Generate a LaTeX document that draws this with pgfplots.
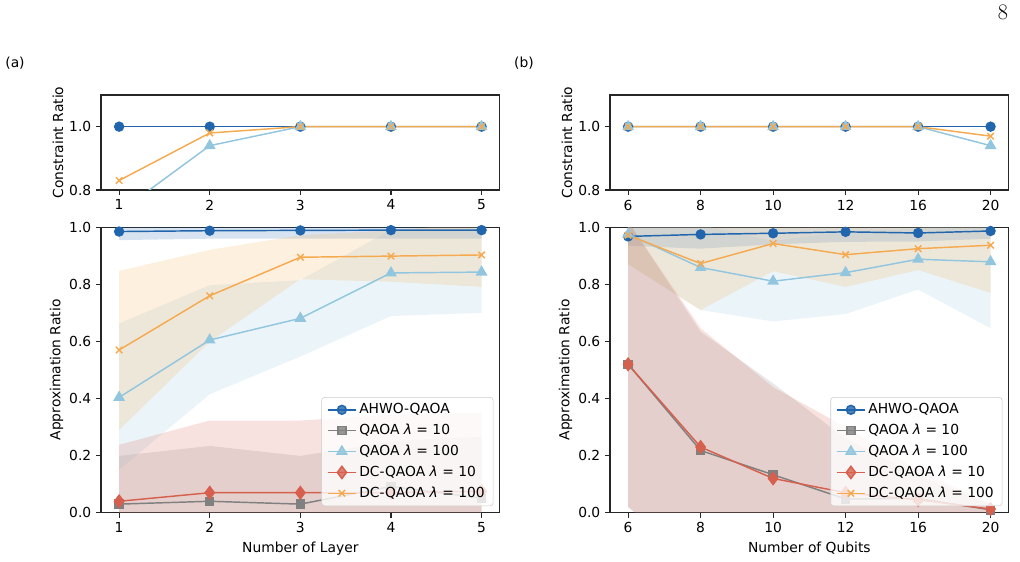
\documentclass[border=0pt]{standalone}
\usepackage{fontspec}
\setsansfont{DejaVu Sans}
\renewcommand{\familydefault}{\sfdefault}
\usepackage{pgfplots}
\pgfplotsset{compat=1.18}
\usepackage{pgfplotstable}

\definecolor{cAHWO}{RGB}{33,102,172}
\definecolor{cQten}{RGB}{128,128,128}
\definecolor{cQhun}{RGB}{146,197,222}
\definecolor{cDCten}{RGB}{214,96,77}
\definecolor{cDChun}{RGB}{245,170,80}

% mean approximation ratio vs. number of layers
\pgfplotstableread{
x ahwo  q10   q100  dc10  dc100
1 0.985 0.030 0.404 0.040 0.570
2 0.988 0.040 0.605 0.070 0.760
3 0.989 0.030 0.681 0.070 0.895
4 0.990 0.092 0.840 0.070 0.899
5 0.990 0.051 0.843 0.075 0.903
}\layers

% mean approximation ratio vs. number of qubits (x = category position)
\pgfplotstableread{
x n  ahwo  q10   q100  dc10  dc100
0 6  0.968 0.520 0.976 0.520 0.972
1 8  0.975 0.218 0.859 0.230 0.873
2 10 0.979 0.133 0.811 0.120 0.943
3 12 0.984 0.048 0.841 0.070 0.904
4 16 0.980 0.050 0.888 0.045 0.925
5 20 0.987 0.010 0.879 0.013 0.937
}\qubits

% constraint ratio
\pgfplotstableread{
x ahwo q100 dc100
1 1.00 0.73 0.83
2 1.00 0.94 0.98
3 1.00 1.00 1.00
4 1.00 1.00 1.00
5 1.00 1.00 1.00
}\layersc
\pgfplotstableread{
x ahwo q100 dc100
0 1.00 1.00 1.00
1 1.00 1.00 1.00
2 1.00 1.00 1.00
3 1.00 1.00 1.00
4 1.00 1.00 1.00
5 1.00 0.94 0.97
}\qubitsc

\newcommand{\tenpt}{\fontsize{10}{12}\selectfont}

\pgfplotsset{
  base/.style={
    scale only axis, width=287.06bp,
    tick pos=left, tick align=outside, major tick length=3.5bp,
    axis line style={black!85, line width=0.8bp},
    every tick/.style={black!85, line width=0.8bp},
    tick label style={font=\tenpt},
    label style={font=\tenpt},
    ylabel style={yshift=-2.5bp},
    /pgf/number format/assume math mode=true,
    yticklabel style={/pgf/number format/.cd, fixed, fixed zerofill, precision=1},
  },
  band/.style={fill=#1, fill opacity=0.18, draw=none, forget plot},
  sAHWO/.style={color=cAHWO, line width=1.05bp, mark=*, mark size=3.2bp, mark options={solid}},
  sQten/.style={color=cQten, line width=1.05bp, mark=square*, mark size=2.9bp, mark options={solid}},
  sQhun/.style={color=cQhun, line width=1.05bp, mark=triangle*, mark size=3.9bp, mark options={solid}},
  sDCten/.style={color=cDCten, line width=1.05bp, mark=diamond*, mark size=4.4bp, mark options={solid}},
  sDChun/.style={color=cDChun, line width=1.05bp, mark=x, mark size=3.3bp, mark options={solid}},
  legstyle/.style={
    legend style={at={(0.984,0.023)}, anchor=south east, draw=black!20,
      rounded corners=2bp, fill=white, fill opacity=0.8, text opacity=1,
      font=\tenpt, row sep=2bp, inner xsep=4bp, inner ysep=2.5bp},
    legend cell align=left,
    legend image code/.code={\draw[mark repeat=2,mark phase=2]
      plot coordinates {(0bp,0bp) (10bp,0bp) (20bp,0bp)};},
  },
}

\begin{document}
\begin{tikzpicture}
\path[use as bounding box] (0,0) rectangle (734.4bp,404.64bp);

\node[font=\tenpt] at (10.8bp,359.3bp) {(a)};
\node[font=\tenpt] at (377.3bp,359.3bp) {(b)};
\node[font=\rmfamily\fontsize{16}{19}\selectfont] at (722.2bp,396bp) {8};

% (a) top: constraint ratio vs layers
\begin{axis}[base, height=68.4bp, at={(72.72bp,267.84bp)}, anchor=south west,
  xmin=0.8, xmax=5.2, ymin=0.8, ymax=1.1,
  xtick={1,2,3,4,5}, ytick={0.8,1.0},
  ylabel={Constraint Ratio}]
  \addplot[sAHWO] table[x=x, y=ahwo]{\layersc};
  \addplot[sQhun] table[x=x, y=q100]{\layersc};
  \addplot[sDChun] table[x=x, y=dc100]{\layersc};
\end{axis}

% (a) bottom: approximation ratio vs layers, bands = mean +/- std
\begin{axis}[base, legstyle, height=205.5bp, at={(72.72bp,35.5bp)}, anchor=south west,
  xmin=0.8, xmax=5.2, ymin=0, ymax=1,
  xtick={1,2,3,4,5}, ytick={0,0.2,0.4,0.6,0.8,1.0},
  xlabel={Number of Layer}, ylabel={Approximation Ratio}]
  \addplot[band=cAHWO] coordinates {(1,1.015)(2,1.016)(3,1.018)(4,1.020)(5,1.020)
    (5,0.960)(4,0.960)(3,0.960)(2,0.960)(1,0.955)};
  \addplot[band=cQten] coordinates {(1,0.199)(2,0.234)(3,0.199)(4,0.250)(5,0.267)
    (5,-0.165)(4,-0.066)(3,-0.139)(2,-0.154)(1,-0.139)};
  \addplot[band=cQhun] coordinates {(1,0.663)(2,0.797)(3,0.815)(4,0.991)(5,0.986)
    (5,0.700)(4,0.689)(3,0.547)(2,0.415)(1,0.150)};
  \addplot[band=cDCten] coordinates {(1,0.238)(2,0.323)(3,0.323)(4,0.343)(5,0.351)
    (5,-0.201)(4,-0.203)(3,-0.183)(2,-0.183)(1,-0.158)};
  \addplot[band=cDChun] coordinates {(1,0.847)(2,0.921)(3,0.972)(4,0.989)(5,1.015)
    (5,0.791)(4,0.809)(3,0.818)(2,0.599)(1,0.290)};
  \addplot[sAHWO] table[x=x, y=ahwo]{\layers};
  \addplot[sQten] table[x=x, y=q10]{\layers};
  \addplot[sQhun] table[x=x, y=q100]{\layers};
  \addplot[sDCten] table[x=x, y=dc10]{\layers};
  \addplot[sDChun] table[x=x, y=dc100]{\layers};
  \legend{AHWO-QAOA, QAOA \textit{λ} = 10, QAOA \textit{λ} = 100,
    DC-QAOA \textit{λ} = 10, DC-QAOA \textit{λ} = 100}
\end{axis}

% (b) top: constraint ratio vs qubits
\begin{axis}[base, height=68.4bp, at={(439.2bp,267.84bp)}, anchor=south west,
  xmin=-0.25, xmax=5.25, ymin=0.8, ymax=1.1,
  xtick={0,1,2,3,4,5}, xticklabels={6,8,10,12,16,20}, ytick={0.8,1.0},
  ylabel={Constraint Ratio}]
  \addplot[sAHWO] table[x=x, y=ahwo]{\qubitsc};
  \addplot[sQhun] table[x=x, y=q100]{\qubitsc};
  \addplot[sDChun] table[x=x, y=dc100]{\qubitsc};
\end{axis}

% (b) bottom: approximation ratio vs qubits, bands = mean +/- std
\begin{axis}[base, legstyle, height=205.5bp, at={(439.2bp,35.5bp)}, anchor=south west,
  xmin=-0.25, xmax=5.25, ymin=0, ymax=1,
  xtick={0,1,2,3,4,5}, xticklabels={6,8,10,12,16,20},
  ytick={0,0.2,0.4,0.6,0.8,1.0},
  xlabel={Number of Qubits}, ylabel={Approximation Ratio}]
  \addplot[band=cAHWO] coordinates {(0,1.001)(1,1.025)(2,1.018)(3,1.019)(4,1.010)(5,1.014)
    (5,0.960)(4,0.950)(3,0.949)(2,0.940)(1,0.925)(0,0.935)};
  \addplot[band=cQten] coordinates {(0,1.020)(1,0.634)(2,0.453)(3,0.260)(4,0.130)(5,0.030)
    (5,-0.010)(4,-0.030)(3,-0.164)(2,-0.187)(1,-0.198)(0,0.020)};
  \addplot[band=cQhun] coordinates {(0,1.082)(1,1.008)(2,0.952)(3,0.986)(4,0.994)(5,1.112)
    (5,0.646)(4,0.782)(3,0.696)(2,0.670)(1,0.710)(0,0.870)};
  \addplot[band=cDCten] coordinates {(0,1.020)(1,0.646)(2,0.440)(3,0.300)(4,0.150)(5,0.030)
    (5,-0.004)(4,-0.060)(3,-0.160)(2,-0.200)(1,-0.186)(0,0.020)};
  \addplot[band=cDChun] coordinates {(0,1.074)(1,1.036)(2,1.040)(3,1.017)(4,1.000)(5,1.104)
    (5,0.770)(4,0.850)(3,0.791)(2,0.846)(1,0.710)(0,0.870)};
  \addplot[sAHWO] table[x=x, y=ahwo]{\qubits};
  \addplot[sQten] table[x=x, y=q10]{\qubits};
  \addplot[sQhun] table[x=x, y=q100]{\qubits};
  \addplot[sDCten] table[x=x, y=dc10]{\qubits};
  \addplot[sDChun] table[x=x, y=dc100]{\qubits};
  \legend{AHWO-QAOA, QAOA \textit{λ} = 10, QAOA \textit{λ} = 100,
    DC-QAOA \textit{λ} = 10, DC-QAOA \textit{λ} = 100}
\end{axis}
\end{tikzpicture}
\end{document}
